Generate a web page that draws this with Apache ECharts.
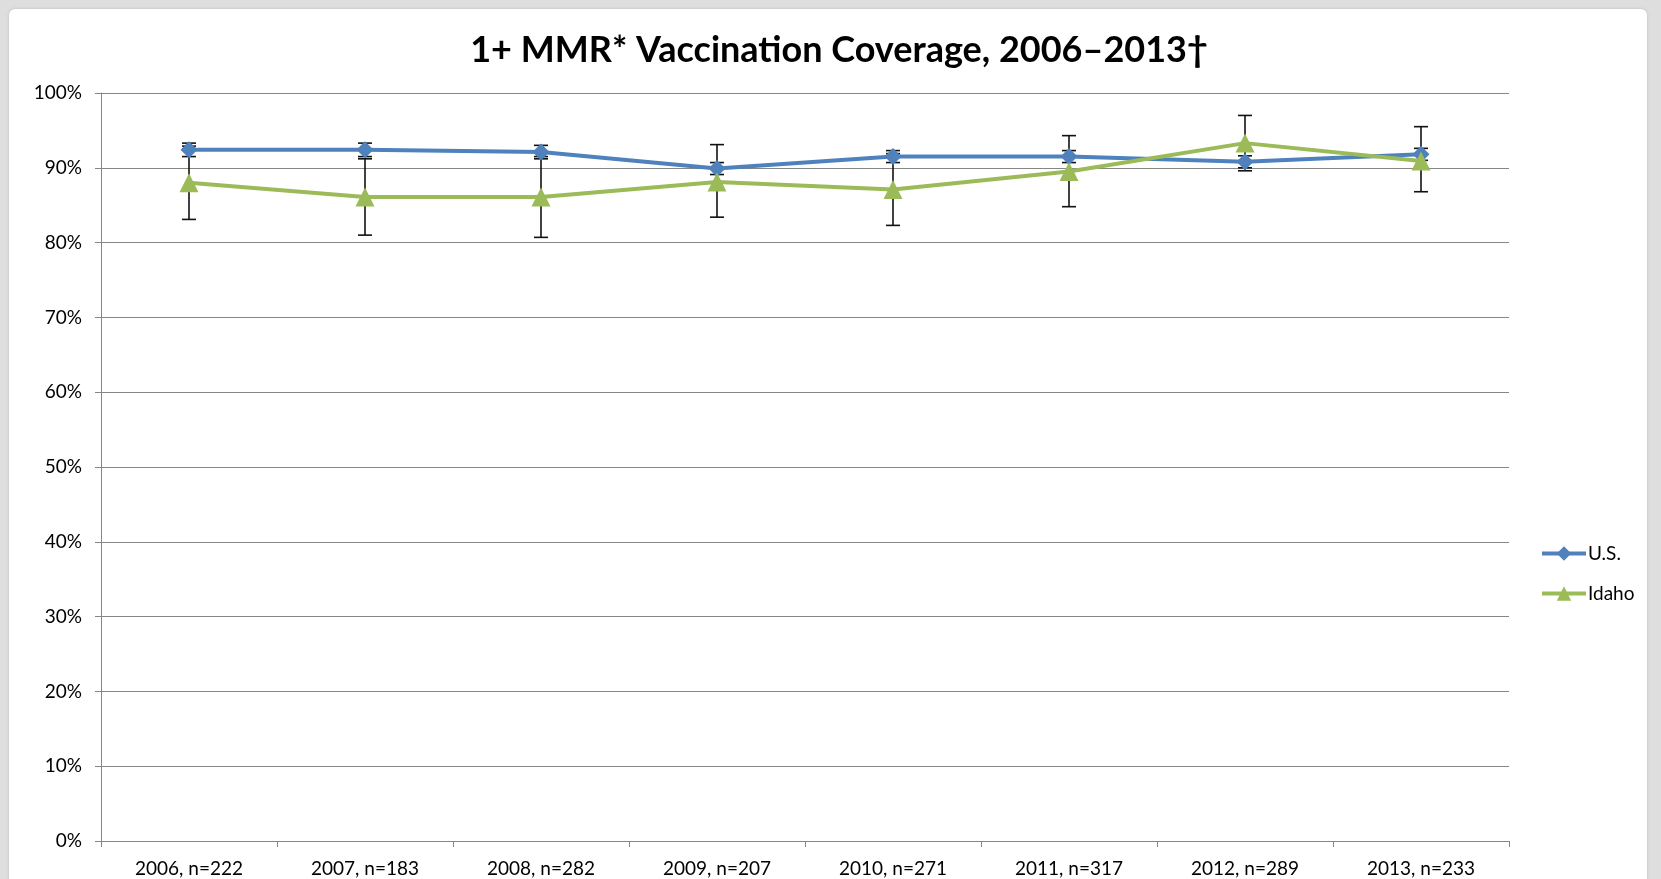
<!DOCTYPE html>
<html>
<head>
<meta charset="utf-8">
<title>1+ MMR Vaccination Coverage</title>
<script src="https://cdn.jsdelivr.net/npm/echarts@6/dist/echarts.min.js"></script>
<style>
  html, body { margin: 0; padding: 0; background: #dedede; }
  #panel { position: absolute; left: 9px; top: 9px; width: 1638px; height: 880px;
           background: #fff; border-radius: 6px; box-shadow: 0 0 3px #bbb; }
  #main { position: absolute; left: 0; top: 0; width: 1661px; height: 879px; }
</style>
</head>
<body>
<div id="panel"></div>
<div id="main"></div>
<script type="text/javascript">
    // categories (year, sample size)
    var years = ['2006, n=222', '2007, n=183', '2008, n=282', '2009, n=207',
                 '2010, n=271', '2011, n=317', '2012, n=289', '2013, n=233'];

    // coverage, percent
    var usValues    = [92.4, 92.4, 92.1, 89.9, 91.5, 91.5, 90.8, 91.8];
    var idahoValues = [88.0, 86.1, 86.1, 88.1, 87.1, 89.5, 93.3, 90.9];

    // 95% confidence intervals
    var usLow     = [91.5, 91.5, 91.2, 89.1, 90.7, 90.7, 90.0, 91.0];
    var usHigh    = [93.3, 93.3, 93.0, 90.7, 92.3, 92.3, 91.6, 92.6];
    var idahoLow  = [83.1, 81.0, 80.7, 83.4, 82.3, 84.8, 89.6, 86.8];
    var idahoHigh = [92.9, 91.2, 91.5, 93.1, 91.9, 94.3, 97.0, 95.5];

    var font = 'Lato, "Open Sans", sans-serif';

    var myChart = echarts.init(document.getElementById('main'));

    function errorData(low, high) {
        var d = [];
        for (var i = 0; i < low.length; i++) {
            d.push([i, low[i], high[i]]);
        }
        return d;
    }

    function renderError(params, api) {
        var x = api.value(0);
        var lo = api.coord([x, api.value(1)]);
        var hi = api.coord([x, api.value(2)]);
        var half = 7;
        var style = { stroke: '#111', lineWidth: 1.6 };
        return {
            type: 'group',
            children: [
                { type: 'line', shape: { x1: lo[0], y1: lo[1], x2: hi[0], y2: hi[1] }, style: style },
                { type: 'line', shape: { x1: lo[0] - half, y1: lo[1], x2: lo[0] + half, y2: lo[1] }, style: style },
                { type: 'line', shape: { x1: hi[0] - half, y1: hi[1], x2: hi[0] + half, y2: hi[1] }, style: style }
            ]
        };
    }

    var option = {
        backgroundColor: 'transparent',
        animation: false,
        title: {
            text: '1+ MMR* Vaccination Coverage, 2006\u20132013\u2020',
            left: 834,
            textAlign: 'center',
            top: 27,
            textStyle: { fontFamily: font, fontWeight: 'bold', fontSize: 36, color: '#000' }
        },
        legend: {
            orient: 'vertical',
            left: 1535,
            top: 539,
            itemWidth: 44,
            itemHeight: 18,
            itemGap: 21,
            lineStyle: { width: 4 },
            data: ['U.S.', 'Idaho'],
            textStyle: { fontFamily: font, fontSize: 19, color: '#000', padding: [0, 0, 0, -3] }
        },
        grid: { left: 101, right: 152, top: 93, bottom: 38 },
        xAxis: {
            type: 'category',
            data: years,
            boundaryGap: true,
            axisLine: { lineStyle: { color: '#868686', width: 1 } },
            axisTick: { show: true, alignWithLabel: false, length: 6, lineStyle: { color: '#868686' } },
            axisLabel: { fontFamily: font, fontSize: 19, color: '#000', margin: 18 }
        },
        yAxis: {
            type: 'value',
            min: 0,
            max: 100,
            interval: 10,
            axisLine: { show: true, lineStyle: { color: '#868686', width: 1 } },
            axisTick: { show: true, length: 6, lineStyle: { color: '#868686' } },
            axisLabel: { fontFamily: font, fontSize: 19, color: '#000', margin: 19,
                         formatter: '{value}%' },
            splitLine: { lineStyle: { color: '#868686', width: 1 } }
        },
        series: [
            {
                name: 'Idaho error',
                type: 'custom',
                renderItem: renderError,
                data: errorData(idahoLow, idahoHigh),
                z: 1
            },
            {
                name: 'U.S. error',
                type: 'custom',
                renderItem: renderError,
                data: errorData(usLow, usHigh),
                z: 1
            },
            {
                name: 'U.S.',
                type: 'line',
                data: usValues,
                color: '#4F81BD',
                symbol: 'diamond',
                symbolSize: 17,
                lineStyle: { width: 4, color: '#4F81BD' },
                itemStyle: { color: '#4F81BD' },
                z: 3
            },
            {
                name: 'Idaho',
                type: 'line',
                data: idahoValues,
                color: '#9BBB59',
                symbol: 'triangle',
                symbolSize: 19,
                lineStyle: { width: 4, color: '#9BBB59' },
                itemStyle: { color: '#9BBB59' },
                z: 3
            }
        ]
    };

    myChart.setOption(option);
</script>
</body>
</html>
